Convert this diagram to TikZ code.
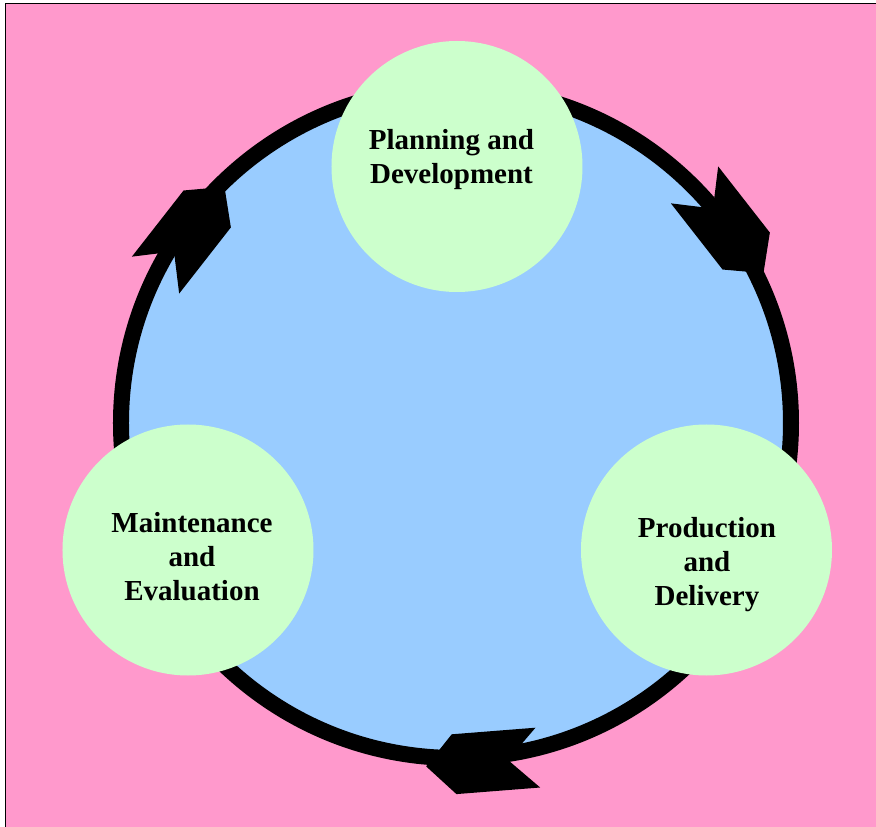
\documentclass[tikz,border=0pt]{standalone}
\usepackage{fontspec}
\setmainfont{Liberation Serif}
\usepackage{tikz}
\definecolor{bgpink}{HTML}{FF99CC}
\definecolor{ringblue}{HTML}{99CCFF}
\definecolor{stagegreen}{HTML}{CCFFCC}
\tikzset{
    stage/.style={circle,fill=stagegreen,minimum size=251pt,inner sep=0pt},
    stagetext/.style={align=center,inner sep=0pt,font=\fontsize{29}{34}\selectfont\bfseries},
    ringarrow/.style={fill=black}
}

\begin{document}
\begin{tikzpicture}[x=1pt,y=1pt]
    \useasboundingbox (-456,-404) rectangle (420,423);
    \fill[bgpink] (-450.5,-410) rectangle (430,419.2);
    \draw[line width=1.3pt] (-450.5,-410) |- (430,419.2);
    \draw[line width=16pt,fill=ringblue] (0,0) circle (335);
    \foreach \ax/\ay/\d in {273/194/-52, -266/192/52, 26/-339/184.5}
        \fill[ringarrow,shift={(\ax,\ay)},rotate=\d]
            (56,0) -- (28,30) -- (-56,30) -- (-26,0) -- (-56,-30) -- (28,-30) -- cycle;
    \node[stage] (plan) at (1,256.5) {};
    \node[stage] (prod) at (250.5,-127) {};
    \node[stage] (maint) at (-268,-127) {};
    \node[stagetext] (plan text) at (-4.5,263) {Planning and\\Development};
    \node[stagetext] (prod text) at (251,-141.5) {Production\\and\\Delivery};
    \node[stagetext] (maint text) at (-264,-133.5) {Maintenance\\and\\Evaluation};
\end{tikzpicture}
\end{document}
